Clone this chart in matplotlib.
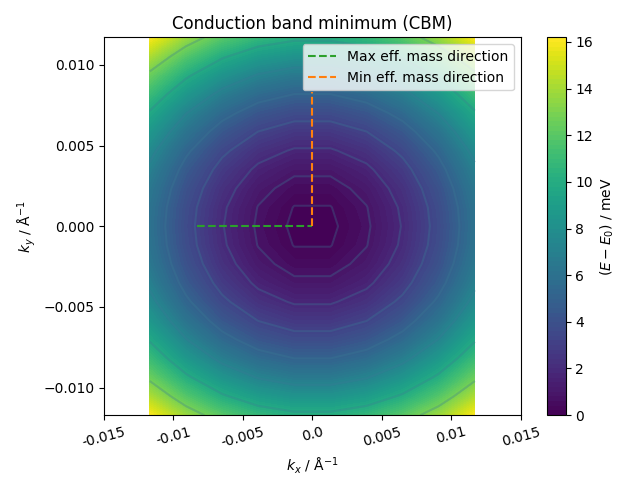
import numpy as np
import matplotlib
matplotlib.use("Agg")
import matplotlib.pyplot as plt

# k-point grid (1/Angstrom)
kx = [-0.0117, -0.0091, -0.0065, -0.0039, -0.0013,
      0.0013, 0.0039, 0.0065, 0.0091, 0.0117]
ky = [-0.0117, -0.01053, -0.00936, -0.00819, -0.00702, -0.00585,
      -0.00468, -0.00351, -0.00234, -0.00117, 0.0,
      0.00117, 0.00234, 0.00351, 0.00468, 0.00585, 0.00702,
      0.00819, 0.00936, 0.01053, 0.0117]

# effective masses (units of m_e) along kx (max) and ky (min)
m_eff_x = 0.0866
m_eff_y = 0.0518
HBAR2_2ME = 3809.98  # meV * Angstrom^2

contour_levels = [0.2, 0.8, 1.8, 3.2, 5.0, 7.2, 9.8, 12.8]

max_dir_kx = [-0.0083, 0.0]
max_dir_ky = [0.0, 0.0]
min_dir_kx = [0.0, 0.0]
min_dir_ky = [0.0, 0.0083]

xtick_vals = [-0.015, -0.01, -0.005, 0.0, 0.005, 0.01, 0.015]
xtick_labels = ["-0.015", "-0.01", "-0.005", "0.0", "0.005", "0.01", "0.015"]

KX, KY = np.meshgrid(np.array(kx), np.array(ky))
E = HBAR2_2ME * (KX**2 / m_eff_x + KY**2 / m_eff_y)

fig, ax = plt.subplots(figsize=(6.4, 4.8), dpi=100)
cf = ax.contourf(KX, KY, E, levels=100, cmap="viridis")
ax.contour(KX, KY, E, levels=contour_levels, colors="#3a7a95", alpha=0.3, linewidths=1.5)
ax.plot(max_dir_kx, max_dir_ky, "--", color="C2", label="Max eff. mass direction")
ax.plot(min_dir_kx, min_dir_ky, "--", color="C1", label="Min eff. mass direction")
cb = fig.colorbar(cf, ax=ax)
cb.set_label("$(E-E_0)$ / meV")
cb.set_ticks([0, 2, 4, 6, 8, 10, 12, 14, 16])
ax.set_xlim(-0.015, 0.015)
ax.set_ylim(min(ky), max(ky))
ax.set_xticks(xtick_vals)
ax.set_xticklabels(xtick_labels)
ax.set_xlabel("$k_x$ / Å$^{-1}$")
ax.set_ylabel("$k_y$ / Å$^{-1}$")
ax.set_title("Conduction band minimum (CBM)")
ax.legend(loc="upper right")
fig.tight_layout()
for lbl in ax.get_xticklabels():
    lbl.set_rotation(15)
fig.savefig("out.png", dpi=100)
